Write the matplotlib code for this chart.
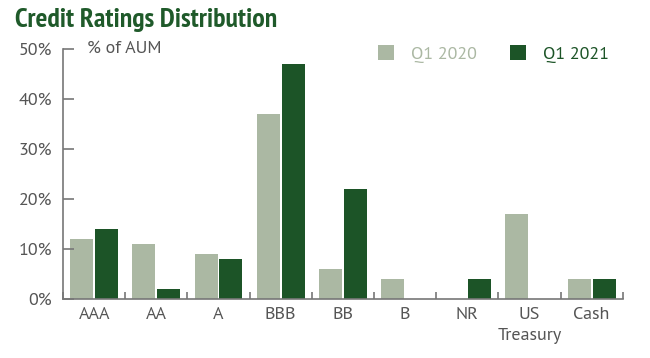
import numpy as np
import matplotlib.pyplot as plt
from matplotlib import font_manager

categories = ["AAA", "AA", "A", "BBB", "BB", "B", "NR", "US\nTreasury", "Cash"]
q1_2020 = [12, 11, 9, 37, 6, 4, 0, 17, 4]
q1_2021 = [14, 2, 8, 47, 22, 0, 4, 0, 4]
yticks = [0, 10, 20, 30, 40, 50]

light = "#abb8a3"
dark = "#1c5427"
grey = "#555555"

names = {f.name for f in font_manager.fontManager.ttflist}


def pick(options, default):
    for n in options:
        if n in names:
            return n
    return default


title_font = pick(["PT Sans Narrow", "Open Sans Condensed", "Asap Condensed",
                   "Roboto Condensed", "Archivo Narrow"], "Roboto")
body_font = pick(["PT Sans"], "Lato")
plt.rcParams["font.family"] = [body_font, "DejaVu Sans"]

fig = plt.figure(figsize=(6.5, 3.58), dpi=100)
ax = fig.add_axes([0.097, 0.165, 0.861, 0.698])

x = np.arange(len(categories))
w = 0.37
ax.bar(x - 0.2, q1_2020, w, color=light, label="Q1 2020")
ax.bar(x + 0.2, q1_2021, w, color=dark, label="Q1 2021")

ax.set_xlim(-0.5, len(categories) - 0.5)
ax.set_ylim(0, 50)
ax.set_yticks(yticks)
ax.set_yticklabels([f"{v}%" for v in yticks], fontsize=13, color=grey)
ax.set_xticks(x)
ax.set_xticklabels(categories, fontsize=13, color=grey, linespacing=1.4, va="top")
ax.tick_params(axis="x", length=0, pad=6)
ax.tick_params(axis="y", direction="in", length=8, width=1.2, color="#777777", pad=8)

# boundary ticks on the x axis
ax.set_xticks(np.arange(len(categories) + 1) - 0.5, minor=True)
ax.tick_params(axis="x", which="minor", direction="in", length=5, width=1.2, color="#777777")

for s in ["top", "right"]:
    ax.spines[s].set_visible(False)
for s in ["left", "bottom"]:
    ax.spines[s].set_color("#777777")
    ax.spines[s].set_linewidth(1.2)

ax.text(-0.12, 50, "% of AUM", fontsize=13, color=grey, va="center", ha="left")

fig.text(0.023, 0.945, "Credit Ratings Distribution", fontsize=20, fontweight="bold",
         color="#1f5a2a", family=[title_font, "DejaVu Sans"], va="center")

leg = ax.legend(loc="upper right", bbox_to_anchor=(1.005, 1.08), ncol=2, frameon=False,
                fontsize=13, handlelength=0.9, handleheight=0.9, columnspacing=1.8,
                handletextpad=0.95)
for t, c in zip(leg.get_texts(), [light, dark]):
    t.set_color(c)

fig.savefig("out.png", dpi=100)
